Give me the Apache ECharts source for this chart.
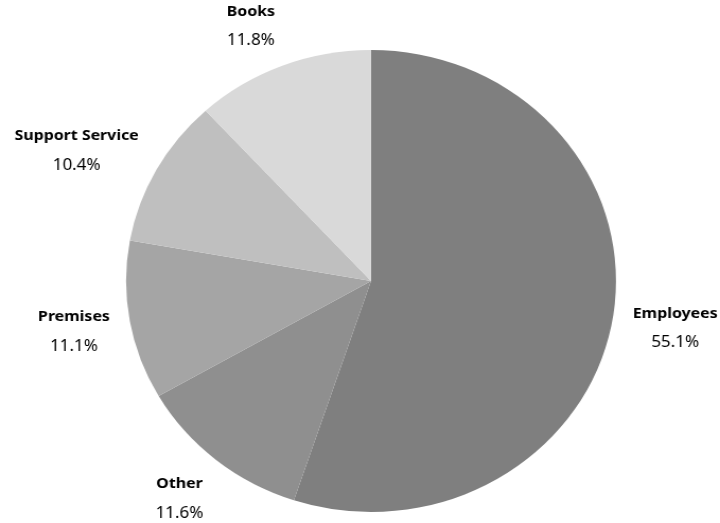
<!DOCTYPE html>
<html>
<head>
<meta charset="utf-8">
<script src="https://cdn.jsdelivr.net/npm/echarts@6/dist/echarts.min.js"></script>
<style>
html,body{margin:0;padding:0;background:#fff;overflow:hidden;}
#c{width:679px;height:523px;transform:scaleX(1.0604);transform-origin:0 0;}
</style>
</head>
<body>
<div id="c"></div>
<script>
var categories = ['Employees', 'Other', 'Premises', 'Support Service', 'Books'];
var values = [55.1, 11.6, 11.1, 10.4, 11.8];
var colors = ['#7f7f7f', '#8f8f8f', '#a5a5a5', '#bfbfbf', '#d9d9d9'];

var CX = 349.9, CY = 281, R = 231;
var GX = 19, KY = 46, EY = 3;
var total = values.reduce(function (a, b) { return a + b; }, 0);
var mids = [];
(function () {
  var acc = 0;
  for (var i = 0; i < values.length; i++) {
    mids.push((acc + values[i] / 2) / total * 2 * Math.PI);
    acc += values[i];
  }
})();

var chart = echarts.init(document.getElementById('c'), null, {renderer: 'canvas'});
chart.setOption({
  animation: false,
  backgroundColor: '#ffffff',
  series: [{
    type: 'pie',
    center: [CX, CY],
    radius: [0, R],
    startAngle: 90,
    clockwise: true,
    avoidLabelOverlap: false,
    itemStyle: {borderWidth: 0},
    label: {
      show: true,
      position: 'outside',
      formatter: function (p) { return '{n|' + p.name + '}\n{p|' + p.value.toFixed(1) + '%}'; },
      rich: {
        n: {fontFamily: 'Noto Sans', fontSize: 15, fontWeight: 'bold', color: '#000', lineHeight: 29, align: 'center'},
        p: {fontFamily: 'Noto Sans', fontSize: 16, color: '#000', lineHeight: 29, align: 'center'}
      }
    },
    labelLine: {show: false},
    labelLayout: function (params) {
      var a = mids[params.dataIndex];
      var dx = Math.sin(a), dy = -Math.cos(a);
      var hw = params.labelRect.width / 2;
      var x = CX + R * dx + GX * dx + (dx >= 0 ? hw : -hw);
      var y = CY + R * dy + KY * dy + EY;
      return {x: x, y: y, align: 'center', verticalAlign: 'middle'};
    },
    data: categories.map(function (c, i) {
      return {name: c, value: values[i], itemStyle: {color: colors[i]}};
    })
  }]
});
</script>
</body>
</html>
